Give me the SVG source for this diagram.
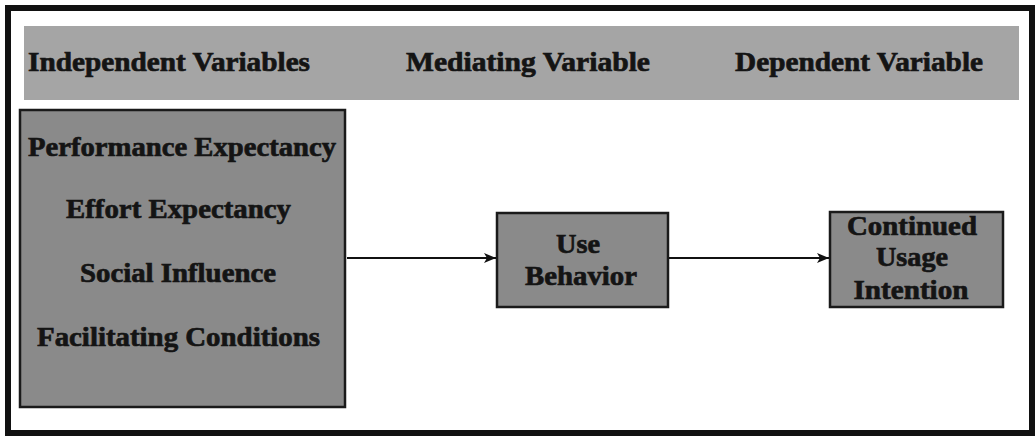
<svg xmlns="http://www.w3.org/2000/svg" width="1036" height="441" viewBox="0 0 1036 441">
  <defs>
    <marker id="arrow" viewBox="0 0 12 10" refX="12" refY="5" markerWidth="12" markerHeight="10" markerUnits="userSpaceOnUse" orient="auto">
      <path d="M0,0 L12,5 L0,10 L3,5 Z" fill="#111"/>
    </marker>
  </defs>
  <style>
    .frame { fill: #fff; stroke: #111; stroke-width: 6; }
    .band { fill: #a5a5a5; }
    .box { fill: #8a8a8a; stroke: #1a1a1a; stroke-width: 2.5; }
    .lbl { font-family: "Liberation Serif", "Times New Roman", serif; font-weight: bold; font-size: 28px; fill: #141414; stroke: #141414; stroke-width: 0.7; }
    .mid { text-anchor: middle; }
    .edge { stroke: #111; stroke-width: 1.8; fill: none; marker-end: url(#arrow); }
  </style>

  <rect class="frame" x="8" y="8" width="1024" height="425"/>

  <g id="header">
    <rect class="band" x="24" y="26" width="995" height="74"/>
    <text class="lbl" x="28" y="71" textLength="282" lengthAdjust="spacingAndGlyphs">Independent Variables</text>
    <text class="lbl" x="406" y="71" textLength="244" lengthAdjust="spacingAndGlyphs">Mediating Variable</text>
    <text class="lbl" x="735" y="71" textLength="248" lengthAdjust="spacingAndGlyphs">Dependent Variable</text>
  </g>

  <g id="independent">
    <rect class="box" x="20" y="110" width="325" height="297"/>
    <text class="lbl" x="28" y="156" textLength="308" lengthAdjust="spacingAndGlyphs">Performance Expectancy</text>
    <text class="lbl" x="66" y="218" textLength="225" lengthAdjust="spacingAndGlyphs">Effort Expectancy</text>
    <text class="lbl" x="80" y="282" textLength="196" lengthAdjust="spacingAndGlyphs">Social Influence</text>
    <text class="lbl" x="37" y="346" textLength="283" lengthAdjust="spacingAndGlyphs">Facilitating Conditions</text>
  </g>

  <g id="use-behavior">
    <rect class="box" x="497" y="213" width="171" height="94"/>
    <text class="lbl mid" x="578" y="253" textLength="44" lengthAdjust="spacingAndGlyphs">Use</text>
    <text class="lbl mid" x="581" y="285" textLength="112" lengthAdjust="spacingAndGlyphs">Behavior</text>
  </g>

  <g id="continued-usage">
    <rect class="box" x="830" y="212" width="173" height="95"/>
    <text class="lbl mid" x="912" y="235" textLength="130" lengthAdjust="spacingAndGlyphs">Continued</text>
    <text class="lbl mid" x="912" y="266" textLength="72" lengthAdjust="spacingAndGlyphs">Usage</text>
    <text class="lbl mid" x="911" y="299" textLength="115" lengthAdjust="spacingAndGlyphs">Intention</text>
  </g>

  <g id="connectors">
    <line class="edge" x1="347" y1="258" x2="496" y2="258"/>
    <line class="edge" x1="669" y1="258" x2="829" y2="258"/>
  </g>
</svg>
